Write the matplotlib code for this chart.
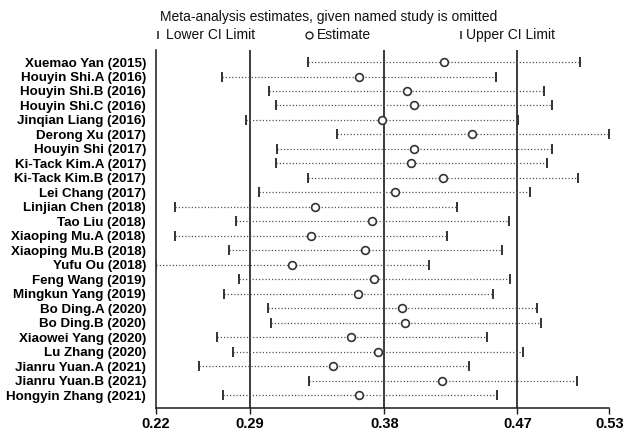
import matplotlib
matplotlib.use("Agg")
import matplotlib.pyplot as plt
from matplotlib.lines import Line2D

studies = [
    "Xuemao Yan (2015)", "Houyin Shi.A (2016)", "Houyin Shi.B (2016)",
    "Houyin Shi.C (2016)", "Jinqian Liang (2016)", "Derong Xu (2017)",
    "Houyin Shi (2017)", "Ki-Tack Kim.A (2017)", "Ki-Tack Kim.B (2017)",
    "Lei Chang (2017)", "Linjian Chen (2018)", "Tao Liu (2018)",
    "Xiaoping Mu.A (2018)", "Xiaoping Mu.B (2018)", "Yufu Ou (2018)",
    "Feng Wang (2019)", "Mingkun Yang (2019)", "Bo Ding.A (2020)",
    "Bo Ding.B (2020)", "Xiaowei Yang (2020)", "Lu Zhang (2020)",
    "Jianru Yuan.A (2021)", "Jianru Yuan.B (2021)", "Hongyin Zhang (2021)",
]
estimate = [0.4167, 0.3598, 0.3918, 0.3969, 0.3752, 0.4356, 0.3965, 0.3949,
            0.4158, 0.3838, 0.3304, 0.3687, 0.3282, 0.3642, 0.3154, 0.3702,
            0.3596, 0.3887, 0.3909, 0.3549, 0.3727, 0.3425, 0.4156, 0.3602]
lower_ci = [0.3260, 0.2685, 0.3002, 0.3049, 0.2847, 0.3452, 0.3054, 0.3049,
            0.3260, 0.2934, 0.2372, 0.2782, 0.2372, 0.2734, 0.2245, 0.2800,
            0.2700, 0.2994, 0.3016, 0.2654, 0.2758, 0.2532, 0.3267, 0.2696]
upper_ci = [0.5074, 0.4514, 0.4836, 0.4887, 0.4660, 0.5269, 0.4885, 0.4854,
            0.5060, 0.4740, 0.4252, 0.4598, 0.4187, 0.4554, 0.4069, 0.4605,
            0.4492, 0.4787, 0.4812, 0.4456, 0.4694, 0.4334, 0.5052, 0.4518]

# combined estimate with all studies and the axis extremes
overall_lower, overall_est, overall_upper = 0.2874, 0.3769, 0.4656
axis_min, axis_max = 0.2245, 0.5269
tick_values = [axis_min, overall_lower, overall_est, overall_upper, axis_max]
tick_labels = ["0.22", "0.29", "0.38", "0.47", "0.53"]

plt.rcParams["font.family"] = ["Liberation Sans", "DejaVu Sans"]

fig = plt.figure(figsize=(6.29, 4.34), dpi=100)
ax = fig.add_axes([155.7 / 629, 1 - 407.7 / 434, (609.3 - 155.7) / 629,
                   (407.7 - 50) / 434])

n = len(studies)
rows = list(range(1, n + 1))

for v in (overall_lower, overall_est, overall_upper):
    ax.axvline(v, color="#1a1a1a", lw=1.2, zorder=1)

for y, lo, est, hi in zip(rows, lower_ci, estimate, upper_ci):
    ax.plot([lo, hi], [y, y], color="#555555", lw=0.9,
            linestyle=(0, (1, 1.6)), zorder=2)
ax.plot(lower_ci, rows, linestyle="none", marker="|", markersize=7,
        markeredgewidth=1.4, color="#333333", zorder=3)
ax.plot(upper_ci, rows, linestyle="none", marker="|", markersize=7,
        markeredgewidth=1.4, color="#333333", zorder=3)
ax.plot(estimate, rows, linestyle="none", marker="o", markersize=5.6,
        markerfacecolor="white", markeredgecolor="#333333",
        markeredgewidth=1.2, zorder=4)

ax.set_xlim(axis_min, axis_max)
ax.set_ylim(n + 0.87, 0.17)
ax.set_xticks(tick_values)
ax.set_xticklabels(tick_labels, fontsize=10.5, fontweight="bold")
ax.set_yticks(rows)
ax.set_yticklabels(studies, fontsize=9.6, fontweight="bold")
ax.tick_params(axis="y", length=0, pad=7)
ax.tick_params(axis="x", length=4, width=1, pad=3, color="#1a1a1a")
for side in ("top", "right"):
    ax.spines[side].set_visible(False)
for side in ("left", "bottom"):
    ax.spines[side].set_linewidth(1.1)
    ax.spines[side].set_color("#1a1a1a")

# heading and key
fig.text(160 / 629, 1 - 17 / 434, "Meta-analysis estimates, given named study is omitted",
         fontsize=10, va="center", ha="left", color="#111111")
key_y = 1 - 35 / 434
fig.lines.append(Line2D([158 / 629], [key_y], marker="|", markersize=6,
                        markeredgewidth=1.1, color="#222222",
                        transform=fig.transFigure))
fig.text(166 / 629, key_y, "Lower CI Limit", fontsize=10, va="center", ha="left",
         color="#111111")
fig.lines.append(Line2D([309 / 629], [key_y], marker="o", markersize=5,
                        markerfacecolor="white", markeredgecolor="#222222",
                        markeredgewidth=1.0, transform=fig.transFigure))
fig.text(317 / 629, key_y, "Estimate", fontsize=10, va="center", ha="left",
         color="#111111")
fig.lines.append(Line2D([461 / 629], [key_y], marker="|", markersize=6,
                        markeredgewidth=1.1, color="#222222",
                        transform=fig.transFigure))
fig.text(466 / 629, key_y, "Upper CI Limit", fontsize=10, va="center", ha="left",
         color="#111111")

fig.savefig("out.png", dpi=100, facecolor="white")
